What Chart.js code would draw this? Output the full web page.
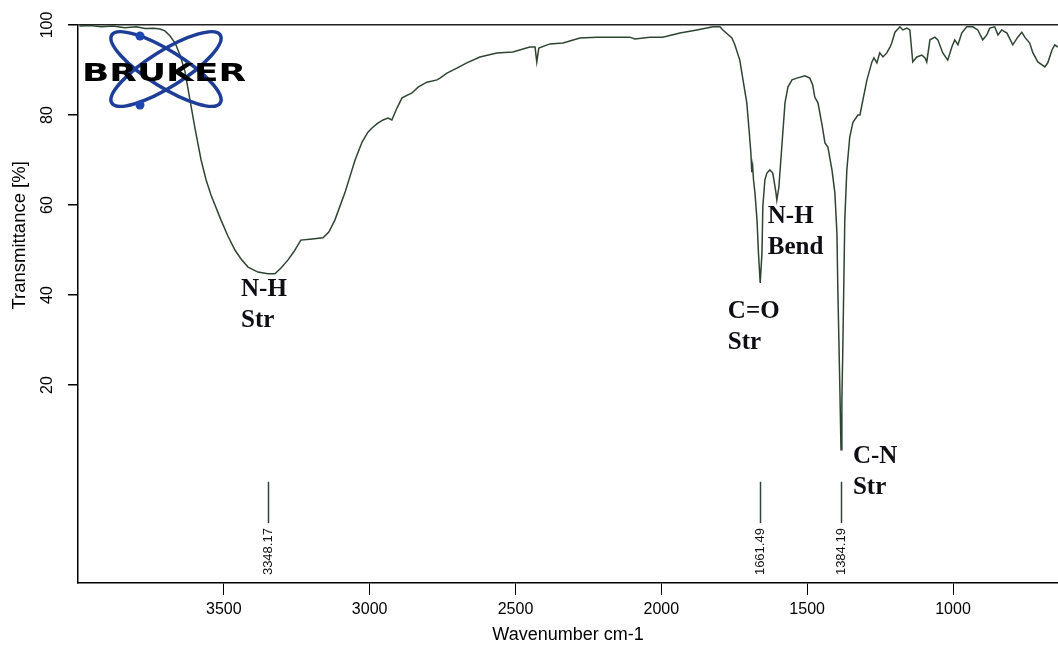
<!DOCTYPE html>
<html>
<head>
<meta charset="utf-8">
<script src="https://cdn.jsdelivr.net/npm/chart.js@4.4.1/dist/chart.umd.min.js"></script>
<style>
  html, body { margin: 0; padding: 0; background: #fff; }
  canvas { display: block; }
</style>
</head>
<body>
<canvas id="irChart" width="1058" height="648"></canvas>
<script>
// spectrum: wavenumber (cm-1) and transmittance (%)
const waveNumbers = [
  3995, 3960, 3920, 3880, 3840, 3800, 3770, 3740, 3719, 3702, 3685, 3667, 3650, 3633, 3616, 3599,
  3578, 3561, 3544, 3510, 3486, 3462, 3441, 3417, 3383, 3349, 3325, 3304, 3280, 3260, 3236, 3205,
  3160, 3140, 3119, 3085, 3050, 3026, 3006, 2992, 2972, 2954, 2937, 2924, 2906, 2889, 2855, 2834,
  2804, 2769, 2759, 2735, 2701, 2667, 2622, 2564, 2509, 2451, 2433, 2427, 2420, 2382, 2337, 2279,
  2221, 2166, 2108, 2091, 2039, 1995, 1936, 1878, 1823, 1799, 1789, 1758, 1748, 1731, 1720, 1707,
  1700, 1693, 1690, 1687, 1684, 1679, 1672, 1667, 1661, 1655, 1652, 1645, 1638, 1628, 1618, 1614,
  1607, 1604, 1597, 1587, 1576, 1566, 1552, 1535, 1508, 1491, 1481, 1474, 1463, 1449, 1439, 1429,
  1415, 1405, 1398, 1395, 1388, 1384, 1381, 1378, 1371, 1364, 1354, 1343, 1326, 1319, 1309, 1295,
  1278, 1271, 1261, 1251, 1240, 1227, 1216, 1210, 1199, 1182, 1172, 1158, 1148, 1138, 1124, 1107,
  1096, 1090, 1079, 1062, 1052, 1035, 1018, 1004, 994, 983, 970, 953, 932, 915, 898, 884,
  874, 857, 846, 833, 815, 795, 778, 764, 754, 737, 726, 709, 685, 675, 661, 651, 641
];
const transmittance = [
  99.8, 99.9, 99.6, 99.8, 99.4, 99.6, 99.2, 99.3, 99.1, 98.7, 97.6, 96.0, 93.3, 89.6, 83.3, 77.1,
  70.0, 65.6, 62.2, 56.7, 53.1, 50.0, 48.0, 46.2, 45.1, 44.7, 44.7, 46.0, 47.8, 49.6, 52.2, 52.4,
  52.7, 54.0, 56.7, 62.7, 70.0, 74.0, 76.2, 77.1, 78.2, 78.9, 79.3, 78.9, 81.6, 83.8, 84.9, 86.2,
  87.3, 87.8, 88.2, 89.3, 90.4, 91.6, 92.9, 93.8, 94.0, 95.1, 95.1, 91.8, 94.9, 95.8, 96.0, 97.1,
  97.3, 97.3, 97.3, 96.9, 97.3, 97.3, 98.2, 98.9, 99.6, 99.6, 98.9, 97.1, 95.6, 92.2, 87.8, 82.7,
  77.3, 71.6, 67.3, 68.7, 65.6, 62.7, 56.7, 49.3, 42.7, 49.3, 59.6, 65.6, 67.1, 67.8, 67.1, 65.6,
  62.7, 61.1, 64.0, 72.9, 82.7, 86.2, 87.8, 88.2, 88.7, 88.2, 86.7, 84.0, 82.7, 77.8, 73.8, 72.9,
  67.8, 62.7, 53.8, 41.8, 19.6, 5.6, 16.7, 27.1, 56.7, 67.8, 75.1, 78.4, 80.0, 80.0, 83.3, 87.8,
  91.8, 92.7, 91.6, 93.8, 92.9, 93.8, 95.1, 96.0, 98.4, 99.6, 98.9, 99.3, 98.9, 91.8, 92.9, 93.3,
  92.7, 91.8, 96.7, 97.3, 96.7, 93.8, 92.2, 95.1, 96.7, 95.6, 98.2, 99.6, 99.6, 98.9, 96.7, 97.8,
  99.3, 99.6, 97.8, 98.9, 98.2, 95.6, 97.3, 98.4, 97.3, 96.0, 93.8, 91.8, 90.7, 91.6, 94.4, 95.6, 95.1
];

const xTicks = [3500, 3000, 2500, 2000, 1500, 1000];
const yTicks = [20, 40, 60, 80, 100];
const peakMarks = [3348.17, 1661.49, 1384.19];

// band labels, anchored at (wavenumber, transmittance) of the first line's baseline
const bandNames = [["N-H", "Str"], ["C=O", "Str"], ["N-H", "Bend"], ["C-N", "Str"]];
const bandWn = [3441, 1772, 1635, 1343];
const bandT = [39.8, 34.9, 56.0, 2.7];

const curveColor = '#2e4531';

const extras = {
  id: 'extras',
  afterDraw(chart) {
    const ctx = chart.ctx;
    const x = chart.scales.x;
    const y = chart.scales.y;
    const area = chart.chartArea;
    ctx.save();

    // rotated y tick labels
    ctx.fillStyle = '#000';
    ctx.font = '16px "Liberation Sans", Arial, sans-serif';
    ctx.textAlign = 'center';
    ctx.textBaseline = 'middle';
    yTicks.forEach(v => {
      ctx.save();
      ctx.translate(area.left - 30, y.getPixelForValue(v));
      ctx.rotate(-Math.PI / 2);
      ctx.fillText(String(v), 0, 0);
      ctx.restore();
    });

    // y title
    ctx.save();
    ctx.font = '18.5px "Liberation Sans", Arial, sans-serif';
    ctx.translate(20, area.top + (area.bottom - area.top) * 0.377);
    ctx.rotate(-Math.PI / 2);
    ctx.fillText('Transmittance [%]', 0, 0);
    ctx.restore();

    // peak markers
    ctx.strokeStyle = curveColor;
    ctx.lineWidth = 1.5;
    ctx.font = '13px "Liberation Sans", Arial, sans-serif';
    peakMarks.forEach(p => {
      const px = Math.round(x.getPixelForValue(p)) + 0.5;
      ctx.beginPath();
      ctx.moveTo(px, y.getPixelForValue(-1.5));
      ctx.lineTo(px, y.getPixelForValue(-10.7));
      ctx.stroke();
      ctx.save();
      ctx.translate(px, y.getPixelForValue(-11.8));
      ctx.rotate(-Math.PI / 2);
      ctx.textAlign = 'right';
      ctx.textBaseline = 'middle';
      ctx.fillStyle = '#111';
      ctx.fillText(p.toFixed(2), 0, 0);
      ctx.restore();
    });

    // band names
    ctx.font = 'bold 25px "Liberation Serif", "Times New Roman", serif';
    ctx.textAlign = 'left';
    ctx.textBaseline = 'alphabetic';
    ctx.fillStyle = '#0d0d14';
    bandNames.forEach((lines, i) => {
      const bx = x.getPixelForValue(bandWn[i]);
      const by = y.getPixelForValue(bandT[i]);
      lines.forEach((t, k) => ctx.fillText(t, bx, by + k * 31));
    });

    // BRUKER logo
    const cx = area.left + 88, cy = area.top + 44;
    ctx.strokeStyle = '#1d3d96';
    ctx.lineWidth = 3.5;
    [0.56, -0.56].forEach(r => {
      ctx.beginPath();
      ctx.ellipse(cx, cy, 64, 18, r, 0, Math.PI * 2);
      ctx.stroke();
    });
    ctx.fillStyle = '#1d46b0';
    [[-26, -33], [-26, 36]].forEach(d => {
      ctx.beginPath();
      ctx.arc(cx + d[0], cy + d[1], 4.5, 0, Math.PI * 2);
      ctx.fill();
    });
    ctx.font = 'bold 25px "DejaVu Sans", sans-serif';
    ctx.textAlign = 'center';
    ctx.fillStyle = '#000';
    const w = ctx.measureText('BRUKER').width;
    ctx.save();
    ctx.translate(cx - 2, cy + 12);
    ctx.scale(164 / w, 1);
    ctx.fillText('BRUKER', 0, 0);
    ctx.restore();

    ctx.restore();
  }
};

new Chart(document.getElementById('irChart'), {
  type: 'line',
  data: {
    datasets: [{
      data: waveNumbers.map((wn, i) => ({ x: wn, y: transmittance[i] })),
      borderColor: curveColor,
      borderWidth: 1.5,
      pointRadius: 0,
      tension: 0,
      fill: false
    }]
  },
  options: {
    responsive: false,
    animation: false,
    layout: { padding: { top: 25, right: 0, left: 0, bottom: 0 } },
    plugins: { legend: { display: false }, tooltip: { enabled: false } },
    scales: {
      x: {
        type: 'linear',
        reverse: true,
        min: 640,
        max: 4000,
        afterBuildTicks: s => { s.ticks = xTicks.map(v => ({ value: v })); },
        afterFit: s => { s.height = 65; },
        ticks: {
          color: '#000',
          font: { family: '"Liberation Sans", Arial, sans-serif', size: 16 },
          padding: 5,
          maxRotation: 0,
          callback: v => String(v)
        },
        grid: { drawOnChartArea: false, tickLength: 12, color: '#000', tickColor: '#000' },
        border: { display: true, color: '#000', width: 1.5 },
        title: {
          display: true,
          text: 'Wavenumber cm-1',
          color: '#000',
          font: { family: '"Liberation Sans", Arial, sans-serif', size: 18 },
          padding: { top: 0, bottom: 2 }
        }
      },
      y: {
        min: -24,
        max: 100,
        afterBuildTicks: s => { s.ticks = yTicks.map(v => ({ value: v })); },
        afterFit: s => { s.width = 78; },
        ticks: { display: false },
        grid: {
          tickLength: 10,
          tickColor: '#000',
          color: c => (c.tick && c.tick.value === 100 ? '#222' : 'rgba(0,0,0,0)'),
          lineWidth: 1.5
        },
        border: { display: true, color: '#000', width: 1.5 }
      }
    }
  },
  plugins: [extras]
});
</script>
</body>
</html>
